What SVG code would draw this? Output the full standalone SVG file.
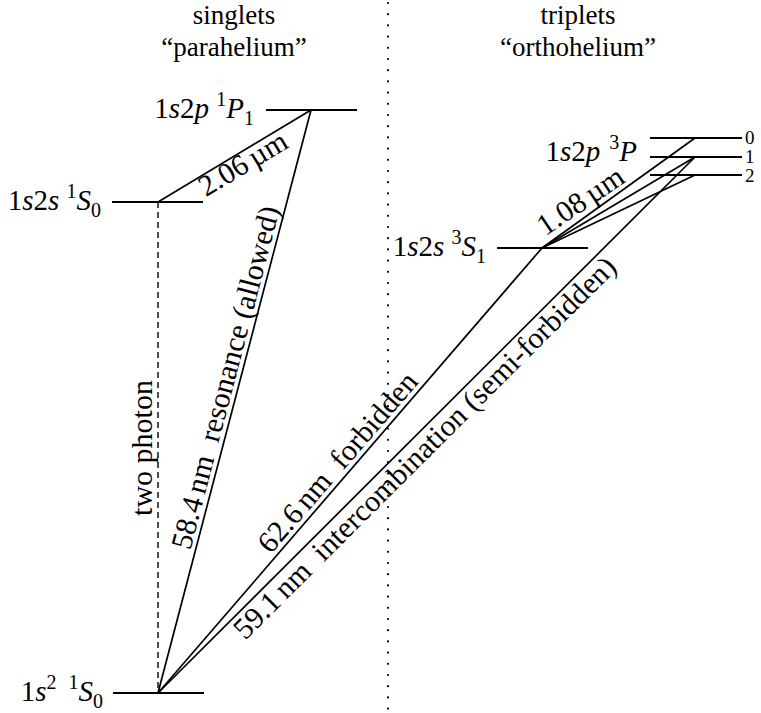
<svg xmlns="http://www.w3.org/2000/svg" width="761" height="713" viewBox="0 0 761 713">
<style>
text { font-family: "Liberation Serif", "Times New Roman", serif; font-size: 28px; fill: #000; }
.hd { font-size: 27px; }
.lab { font-size: 29px; }
.rot { font-size: 30px; }
.i { font-style: italic; }
.s { font-size: 20px; }
.lvl { stroke: #000; stroke-width: 2; }
.tr { stroke: #000; stroke-width: 1.7; fill: none; }
.dash { stroke-dasharray: 6 4; stroke-width: 1.4; }
.dot { stroke: #000; stroke-width: 2.2; stroke-linecap: round; stroke-dasharray: 0 11.2; }
.j { font-size: 19px; }
</style>
<rect width="761" height="713" fill="#fff"/>
<g id="headers">
<text class="hd" x="234" y="24" text-anchor="middle">singlets</text>
<text class="hd" x="234" y="56" text-anchor="middle">“parahelium”</text>
<text class="hd" x="578" y="24" text-anchor="middle">triplets</text>
<text class="hd" x="578" y="56" text-anchor="middle">“orthohelium”</text>
</g>
<g id="connectors">
<line class="dot" x1="388" y1="3" x2="388" y2="712"/>
<line class="tr dash" x1="158" y1="202" x2="158" y2="693"/>
<line class="tr" x1="158" y1="202" x2="311" y2="110"/>
<line class="tr" x1="158" y1="693" x2="311" y2="110"/>
<line class="tr" x1="158" y1="693" x2="542" y2="248"/>
<line class="tr" x1="158" y1="693" x2="695" y2="157"/>
<line class="tr" x1="542" y1="248" x2="695" y2="138"/>
<line class="tr" x1="542" y1="248" x2="695" y2="157"/>
<line class="tr" x1="542" y1="248" x2="695" y2="175"/>
<text class="rot" transform="translate(152,448) rotate(-90)" text-anchor="middle">two photon</text>
<text class="rot" transform="translate(235,380) rotate(-75.29)" text-anchor="middle">58.4<tspan dx="5">nm</tspan><tspan dx="15">resonance (allowed)</tspan></text>
<text class="rot" transform="translate(248,172) rotate(-31.02)" text-anchor="middle">2.06<tspan dx="5">µm</tspan></text>
<text class="rot" transform="translate(345,468.6) rotate(-49.21)" text-anchor="middle">62.6<tspan dx="5">nm</tspan><tspan dx="15">forbidden</tspan></text>
<text class="rot" transform="translate(431.7,454.7) rotate(-44.94)" text-anchor="middle">59.1<tspan dx="5">nm</tspan><tspan dx="15">intercombination (semi-forbidden)</tspan></text>
<text class="rot" transform="translate(586,209) rotate(-34)" text-anchor="middle">1.08<tspan dx="5">µm</tspan></text>
</g>
<g id="level-1s2-1S0">
<line class="lvl" x1="113" y1="693" x2="204" y2="693"/>
<text class="lab" x="103" y="701" text-anchor="end">1<tspan class="i">s</tspan><tspan class="s" dy="-12">2</tspan><tspan dx="12" class="s">1</tspan><tspan class="i" dy="12">S</tspan><tspan class="s" dy="7">0</tspan></text>
</g>
<g id="level-1s2s-1S0">
<line class="lvl" x1="112" y1="202" x2="203" y2="202"/>
<text class="lab" x="101" y="210" text-anchor="end">1<tspan class="i">s</tspan>2<tspan class="i">s</tspan> <tspan class="s" dy="-12">1</tspan><tspan class="i" dy="12">S</tspan><tspan class="s" dy="7">0</tspan></text>
</g>
<g id="level-1s2p-1P1">
<line class="lvl" x1="266" y1="110" x2="357" y2="110"/>
<text class="lab" x="254" y="118" text-anchor="end">1<tspan class="i">s</tspan>2<tspan class="i">p</tspan> <tspan class="s" dy="-12">1</tspan><tspan class="i" dy="12">P</tspan><tspan class="s" dy="7">1</tspan></text>
</g>
<g id="level-1s2s-3S1">
<line class="lvl" x1="497" y1="248" x2="588" y2="248"/>
<text class="lab" x="486" y="256" text-anchor="end">1<tspan class="i">s</tspan>2<tspan class="i">s</tspan> <tspan class="s" dy="-12">3</tspan><tspan class="i" dy="12">S</tspan><tspan class="s" dy="7">1</tspan></text>
</g>
<g id="level-1s2p-3P">
<line class="lvl" x1="650" y1="138" x2="742" y2="138"/>
<line class="lvl" x1="650" y1="157" x2="742" y2="157"/>
<line class="lvl" x1="650" y1="175" x2="742" y2="175"/>
<text class="lab" x="637" y="161" text-anchor="end">1<tspan class="i">s</tspan>2<tspan class="i">p</tspan><tspan class="s" dx="9" dy="-12">3</tspan><tspan class="i" dy="12">P</tspan></text>
<text class="j" x="745" y="144">0</text>
<text class="j" x="745" y="163">1</text>
<text class="j" x="745" y="182">2</text>
</g>
</svg>
